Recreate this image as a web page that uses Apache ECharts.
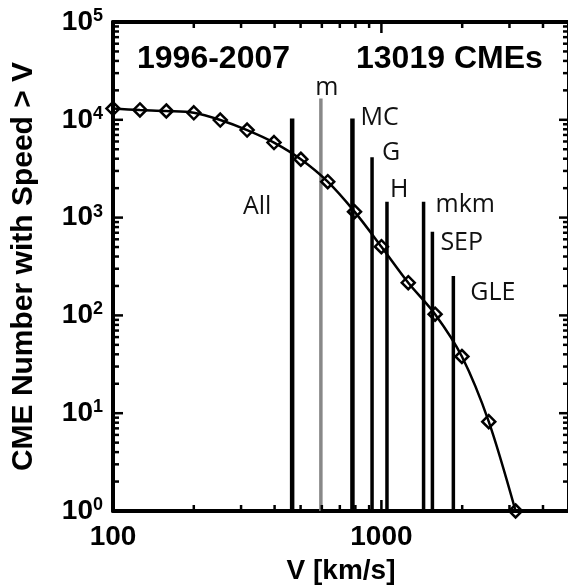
<!DOCTYPE html>
<html><head><meta charset="utf-8">
<script src="https://cdn.jsdelivr.net/npm/echarts@6/dist/echarts.min.js"></script>
<style>html,body{margin:0;padding:0;background:#fff}#c{width:568px;height:588px}</style>
</head><body><div id="c"></div>
<script>
// ---- data ----
const speeds = [100, 126, 158, 200, 251, 316, 398, 501, 631, 794, 1000, 1259, 1585, 1995, 2512, 3162];
const counts = [13019, 12600, 12300, 11800, 9950, 7850, 5850, 3950, 2330, 1150, 504, 216, 103, 38, 8.2, 1];
const markerNames = ['All', 'm', 'MC', 'G', 'H', 'mkm', 'SEP', 'GLE'];
const markerSpeeds = [465, 595, 780, 923, 1049, 1436, 1549, 1854];
const markerHeights = [10300, 16500, 10300, 4150, 1455, 1455, 718, 253];
const xMajorTicks = [100, 1000];
const xMinorTicks = [200, 300, 400, 500, 600, 700, 800, 900, 2000, 3000, 4000];
const yMajorTicks = [1, 10, 100, 1000, 10000, 100000];
const yMinorTicks = [2,3,4,5,6,7,8,9, 20,30,40,50,60,70,80,90, 200,300,400,500,600,700,800,900,
  2000,3000,4000,5000,6000,7000,8000,9000, 20000,30000,40000,50000,60000,70000,80000,90000];
const periodText = '1996-2007';
const totalText = '13019 CMEs';
const xName = 'V [km/s]';
const yName = 'CME Number with Speed > V';

// ---- styles ----
const labelStyle = {
  All: {dx: -35, dy: 88, align: 'center', w: 4.5, color: '#000'},
  m:   {dx: 6, dy: -11, align: 'center', w: 3.5, color: '#888'},
  MC:  {dx: 8, dy: -1, align: 'left', w: 4.5, color: '#000'},
  G:   {dx: 10, dy: -4, align: 'left', w: 3.5, color: '#000'},
  H:   {dx: 3, dy: -12, align: 'left', w: 3.5, color: '#000'},
  mkm: {dx: 12, dy: 3, align: 'left', w: 3.5, color: '#000'},
  SEP: {dx: 8, dy: 11, align: 'left', w: 3.5, color: '#000'},
  GLE: {dx: 17, dy: 17, align: 'left', w: 3.5, color: '#000'}
};
const FB = '"Liberation Sans", Arial, sans-serif';
const AX = 4;
const TICK_W = 2.5, X_MAJOR_LEN = 11, Y_MAJOR_LEN = 10, MINOR_LEN = 6;
const X_MIN = 100, X_MAX = 5000, Y_MIN = 1, Y_MAX = 100000;

function xAxisDef(pos) {
  const main = pos === 'bottom';
  return {
    type: 'log', logBase: 10, min: X_MIN, max: X_MAX, position: pos, gridIndex: 0,
    axisLine: {show: true, onZero: false, lineStyle: {color: '#000', width: AX}},
    axisTick: {show: false},
    axisLabel: {show: main, customValues: xMajorTicks, margin: 12, formatter: v => String(Math.round(v)),
      color: '#000', fontFamily: FB, fontWeight: 'bold', fontSize: 28},
    splitLine: {show: false}, minorTick: {show: false},
    name: main ? xName : '', nameLocation: 'middle', nameGap: 46,
    nameTextStyle: {color: '#000', fontFamily: FB, fontWeight: 'bold', fontSize: 28}
  };
}
function yAxisDef(pos) {
  const main = pos === 'left';
  return {
    type: 'log', logBase: 10, min: Y_MIN, max: Y_MAX, position: pos, gridIndex: 0,
    axisLine: {show: true, onZero: false, lineStyle: {color: '#000', width: AX}},
    axisTick: {show: false},
    axisLabel: {show: main, customValues: yMajorTicks, margin: 10,
      formatter: v => '{b|10}{s|' + Math.round(Math.log10(v)) + '}',
      rich: {
        b: {color: '#000', fontFamily: FB, fontWeight: 'bold', fontSize: 28, lineHeight: 30},
        s: {color: '#000', fontFamily: FB, fontWeight: 'bold', fontSize: 18, lineHeight: 16, verticalAlign: 'top'}
      }},
    splitLine: {show: false}, minorTick: {show: false},
    name: main ? yName : '', nameLocation: 'middle', nameGap: 74,
    nameTextStyle: {color: '#000', fontFamily: FB, fontWeight: 'bold', fontSize: 30}
  };
}

(function () {
const chart = echarts.init(document.getElementById('c'), null, {renderer: 'canvas'});
chart.setOption({
  backgroundColor: '#fff',
  animation: false,
  grid: {left: 113, right: -1, top: 22, bottom: 77, containLabel: false, outerBoundsMode: 'none'},
  xAxis: [xAxisDef('bottom'), xAxisDef('top')],
  yAxis: [yAxisDef('left'), yAxisDef('right')],
  series: [
    {
      type: 'custom', xAxisIndex: 0, yAxisIndex: 0, z: 2,
      data: markerSpeeds.map((v, i) => [v, markerHeights[i]]),
      renderItem: function (params, api) {
        const name = markerNames[params.dataIndex];
        const st = labelStyle[name];
        const v = api.value(0), h = api.value(1);
        const p0 = api.coord([v, Y_MIN]);
        const p1 = api.coord([v, h]);
        return {type: 'group', children: [
          {type: 'line', shape: {x1: p0[0], y1: p0[1], x2: p1[0], y2: p1[1]},
            style: {stroke: st.color, lineWidth: st.w}},
          {type: 'text', x: p1[0] + st.dx, y: p1[1] + st.dy,
            style: {text: name, fill: '#111', font: '25px "Open Sans", sans-serif',
              textAlign: st.align, align: st.align, textVerticalAlign: 'middle', verticalAlign: 'middle'}}
        ]};
      }
    },
    {
      type: 'line', xAxisIndex: 0, yAxisIndex: 0, z: 5,
      data: speeds.map((v, i) => [v, counts[i]]),
      smooth: 0.3,
      symbol: 'diamond', symbolSize: 13, showAllSymbol: true,
      lineStyle: {color: '#000', width: 2.5},
      itemStyle: {color: 'rgba(255,255,255,0)', borderColor: '#000', borderWidth: 2.5}
    }
  ]
});

// inward tick marks on all four sides, placed through the grid's own scales
const g = [];
const P = (x, y) => chart.convertToPixel({gridIndex: 0}, [x, y]);
const gL = P(X_MIN, Y_MIN)[0], gR = P(X_MAX, Y_MIN)[0], gB = P(X_MIN, Y_MIN)[1], gT = P(X_MIN, Y_MAX)[1];
function box(x, y, w, h) {
  g.push({type: 'rect', z: 100, shape: {x: x, y: y, width: w, height: h}, style: {fill: '#000'}});
}
function xt(v, len) {
  const x = P(v, Y_MIN)[0];
  box(x - TICK_W / 2, gB - len, TICK_W, len);
  box(x - TICK_W / 2, gT, TICK_W, len);
}
function yt(v, len) {
  const y = P(X_MIN, v)[1];
  box(gL, y - TICK_W / 2, len, TICK_W);
  box(gR - len, y - TICK_W / 2, len, TICK_W);
}
xMajorTicks.forEach(v => xt(v, X_MAJOR_LEN));
xMinorTicks.forEach(v => xt(v, MINOR_LEN));
yMajorTicks.forEach(v => yt(v, Y_MAJOR_LEN));
yMinorTicks.forEach(v => yt(v, MINOR_LEN));
g.push({type: 'text', x: 137, y: 59, z: 100, style: {text: periodText, fill: '#000', font: 'bold 32px ' + FB, textVerticalAlign: 'middle', verticalAlign: 'middle'}});
g.push({type: 'text', x: 356, y: 59, z: 100, style: {text: totalText, fill: '#000', font: 'bold 32px ' + FB, textVerticalAlign: 'middle', verticalAlign: 'middle'}});
chart.setOption({graphic: g});
})();
</script></body></html>
